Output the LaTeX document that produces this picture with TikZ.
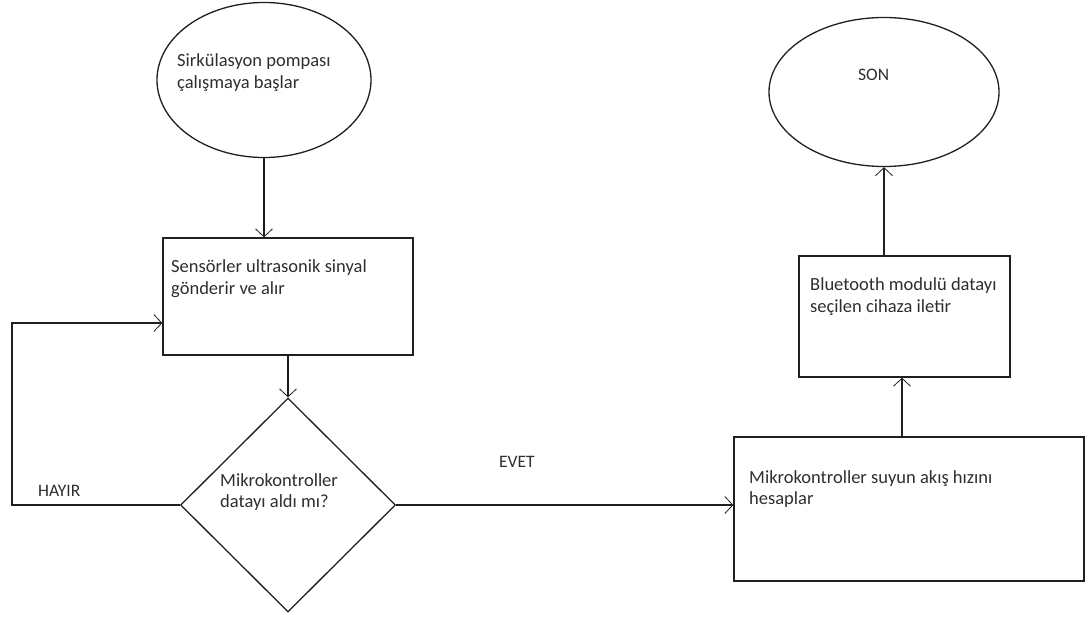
\documentclass[tikz,border=0pt]{standalone}
\usepackage{fontspec}
\setmainfont{Carlito}
\usetikzlibrary{shapes.geometric,arrows.meta}
\begin{document}
\begin{tikzpicture}[x=1pt,y=-1pt,
  outline/.style={draw=black!88, line width=1.3pt, inner sep=0pt},
  flow/.style={draw=black!88, line width=1.3pt,
    -{Straight Barb[length=8pt,width=17pt,line width=0.8pt]}},
  txt/.style={font=\fontsize{18.5}{21.5}\selectfont, align=left,
    anchor=base west, inner sep=0pt, text=black!82},
  caps/.style={txt, font=\fontsize{17.5}{21.5}\selectfont},
]
\useasboundingbox (0,0) rectangle (1087,617);

% shapes
\node[ellipse, outline, minimum width=214pt, minimum height=155pt] (start) at (264,80) {};
\node[rectangle, outline, minimum width=250pt, minimum height=117pt] (sense) at (288,296.5) {};
\node[diamond, outline, minimum width=215pt, minimum height=214pt] (check) at (288,505) {};
\node[rectangle, outline, minimum width=350pt, minimum height=144pt] (calc) at (909,509) {};
\node[rectangle, outline, minimum width=211pt, minimum height=121pt] (send) at (904.5,316.5) {};
\node[ellipse, outline, minimum width=230pt, minimum height=149pt] (finish) at (884,92) {};

% texts (anchored at the baseline of the last line)
\node[txt] (tstart) at (177,88.5) {Sirkülasyon pompası\\çalışmaya başlar};
\node[txt] (tsense) at (171,294.5) {Sensörler ultrasonik sinyal\\gönderir ve alır};
\node[txt] (tcheck) at (220,507.5) {Mikrokontroller\\datayı aldı mı?};
\node[txt] (tcalc) at (749,504.5) {Mikrokontroller suyun akış hızını\\hesaplar};
\node[txt] (tsend) at (810,312.5) {Bluetooth modulü datayı\\seçilen cihaza iletir};
\node[caps] (tfinish) at (858,81) {SON};
\node[caps] (tno) at (38,496) {HAYIR};
\node[caps] (tyes) at (499,467) {EVET};

% helper coordinates
\coordinate (bend) at (12,505);
\coordinate (loopy) at (0,323);
\coordinate (upx) at (902,0);

% connectors
\draw[flow] (start.south) -- (start.south |- sense.north);
\draw[flow] (sense.south) -- (check.north);
\draw[flow] (check.west) -- (bend) |- (sense.west |- loopy);
\draw[flow] (check.east) -- (check.east -| calc.west);
\draw[flow] (calc.north -| upx) -- (send.south -| upx);
\draw[flow] (send.north -| finish.south) -- (finish.south);
\end{tikzpicture}
\end{document}
